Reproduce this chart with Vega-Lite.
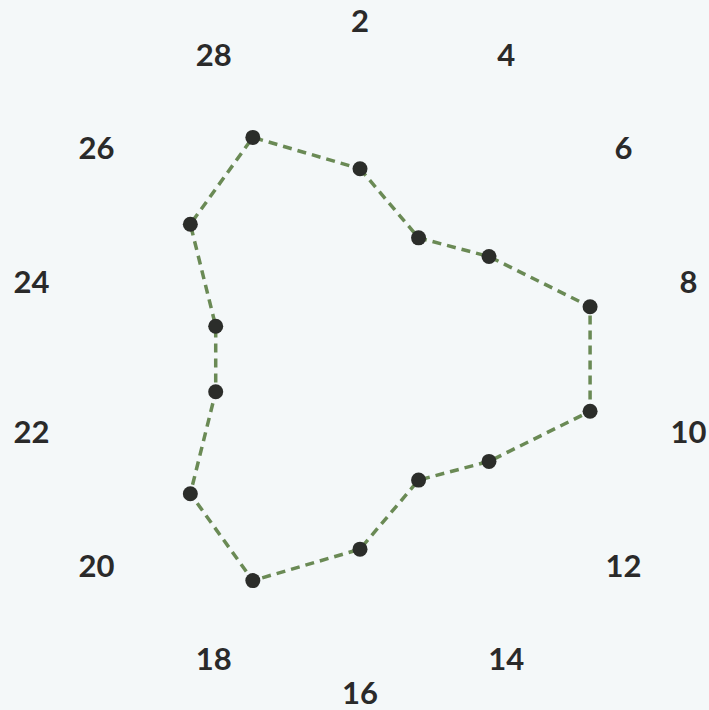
{
  "$schema": "https://vega.github.io/schema/vega-lite/v6.json",
  "width": 709,
  "height": 710,
  "autosize": {"type": "fit", "contains": "padding"},
  "padding": 0,
  "background": "#f4f8f9",
  "config": {"view": {"stroke": null}},
  "data": {
    "values": [
      {"k": 2, "value": 191},
      {"k": 4, "value": 135},
      {"k": 6, "value": 165},
      {"k": 8, "value": 236},
      {"k": 10, "value": 236},
      {"k": 12, "value": 165},
      {"k": 14, "value": 135},
      {"k": 16, "value": 191},
      {"k": 18, "value": 247},
      {"k": 20, "value": 217},
      {"k": 22, "value": 148},
      {"k": 24, "value": 148},
      {"k": 26, "value": 217},
      {"k": 28, "value": 247}
    ]
  },
  "transform": [
    {"calculate": "(datum.k / 2 - 1) * 2 * PI / 14", "as": "theta"},
    {"calculate": "datum.value * sin(datum.theta)", "as": "px"},
    {"calculate": "datum.value * cos(datum.theta)", "as": "py"},
    {"calculate": "337 * sin(datum.theta)", "as": "lx"},
    {"calculate": "337 * cos(datum.theta)", "as": "ly"}
  ],
  "layer": [
    {
      "mark": {"type": "line", "interpolate": "linear-closed", "stroke": "#6a8a55", "strokeWidth": 3.5, "strokeDash": [9, 6]},
      "encoding": {
        "x": {"field": "px", "type": "quantitative", "scale": {"domain": [-360, 349], "nice": false, "zero": false}, "axis": null},
        "y": {"field": "py", "type": "quantitative", "scale": {"domain": [-349.5, 360.5], "nice": false, "zero": false}, "axis": null},
        "order": {"field": "k", "type": "quantitative"}
      }
    },
    {
      "mark": {"type": "circle", "color": "#2b2d2a", "opacity": 1, "size": 225},
      "encoding": {
        "x": {"field": "px", "type": "quantitative"},
        "y": {"field": "py", "type": "quantitative"}
      }
    },
    {
      "mark": {"type": "text", "font": "Lato", "fontWeight": "bold", "fontSize": 31, "color": "#2a2a2a", "align": "center", "baseline": "middle"},
      "encoding": {
        "x": {"field": "lx", "type": "quantitative"},
        "y": {"field": "ly", "type": "quantitative"},
        "text": {"field": "k", "type": "nominal"}
      }
    }
  ]
}
